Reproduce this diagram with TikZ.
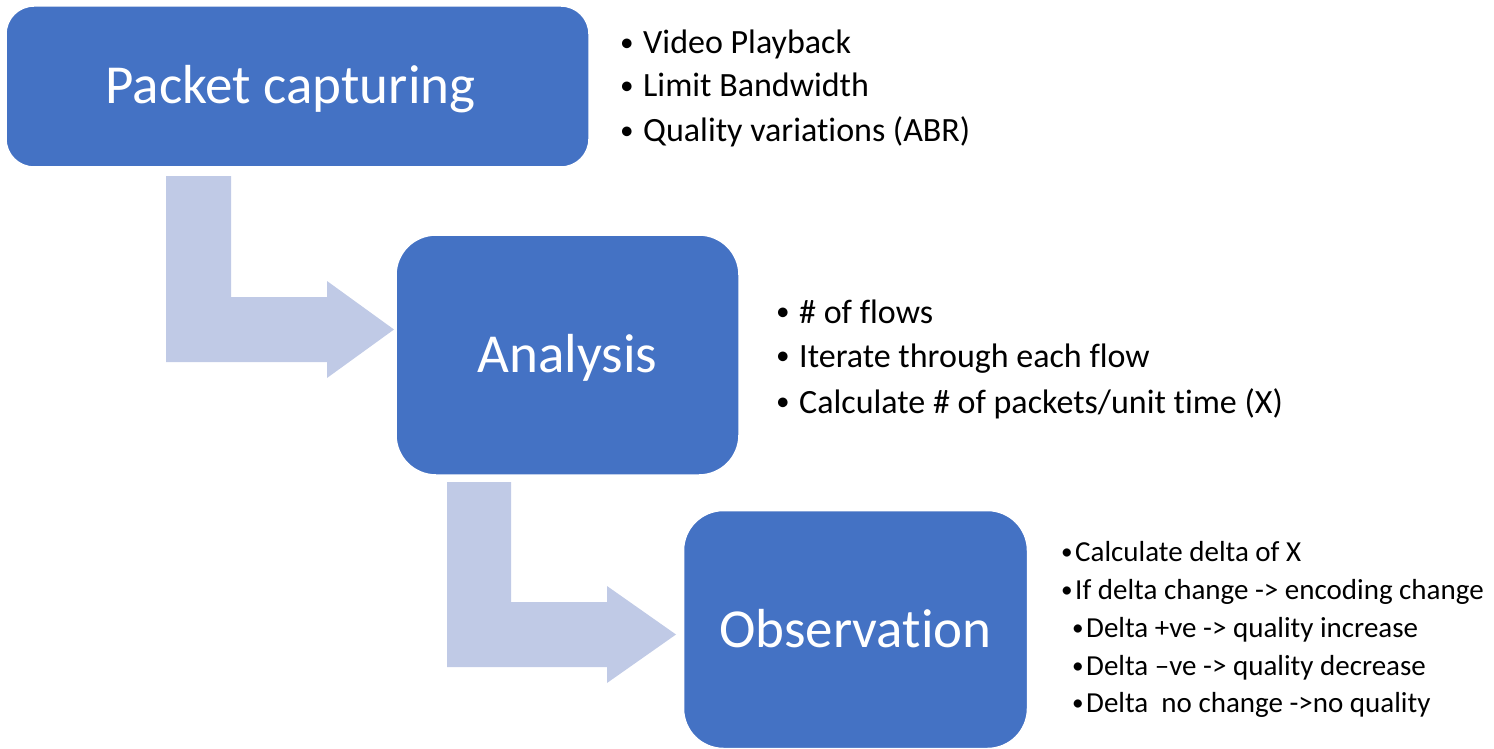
\documentclass[tikz,border=0pt]{standalone}
\usepackage{fontspec}
\setmainfont{Carlito}[Ligatures={NoCommon,NoContextual}]
\definecolor{boxblue}{HTML}{4472C4}
\definecolor{arrowblue}{HTML}{C0CAE6}
\newcommand{\smbul}{\raisebox{0.06em}{\scalebox{0.8}{•}}}
\newcommand{\bulA}{\makebox[24pt][l]{\hspace{1pt}\smbul}}
\newcommand{\bulB}{\makebox[15pt][l]{\hspace{1pt}\smbul}}
\begin{document}
\begin{tikzpicture}[x=1pt,y=-1pt,
  box/.style={draw=white, line width=1.5pt, fill=boxblue, text=white,
    rounded corners=#1, inner sep=0pt, text height=35pt, text depth=0pt,
    font=\fontsize{55}{66}\selectfont},
  box/.default=40pt,
  bendarrow/.style={fill=arrowblue, draw=none},
  itemA/.style={anchor=base west, inner sep=0pt, font=\fontsize{34}{40}\selectfont},
  itemB/.style={anchor=base west, inner sep=0pt, font=\fontsize{29}{35}\selectfont}]
\useasboundingbox (0,0) rectangle (1494,749);

% bent arrows
\path[bendarrow] (166,176) -- (231,176) -- (231,297) -- (327,297) -- (327,281)
  -- (394,329.5) -- (327,378) -- (327,362) -- (166,362) -- cycle;
\path[bendarrow] (447,482) -- (511,482) -- (511,602) -- (607,602) -- (607,586)
  -- (676,634.5) -- (607,683) -- (607,667) -- (447,667) -- cycle;

% boxes
\node[box=28pt, minimum width=583pt, minimum height=161pt] (b1) at (297.5,86.5) {Packet capturing\rule{14pt}{0pt}};
\node[box, minimum width=343pt, minimum height=240pt] (b2) at (567.5,355) {Analysis};
\node[box, minimum width=344pt, minimum height=238pt] (b3) at (855.5,629.5) {Observation};

% list 1
\node[itemA] (l1a) at (619,54) {\bulA Video Playback};
\node[itemA] (l1b) at (619,97) {\bulA Limit Bandwidth};
\node[itemA] (l1c) at (619,142) {\bulA Quality variations (ABR)};

% list 2
\node[itemA] (l2a) at (775,323) {\bulA \# of flows};
\node[itemA] (l2b) at (775,367) {\bulA Iterate through each flow};
\node[itemA] (l2c) at (775,413) {\bulA Calculate \# of packets/unit time (X)};

% list 3
\node[itemB] (l3a) at (1060,561) {\bulB Calculate delta of X};
\node[itemB] (l3b) at (1060,599) {\bulB If delta change -> encoding change};
\node[itemB] (l3c) at (1071,637) {\bulB Delta +ve -> quality increase};
\node[itemB] (l3d) at (1071,675) {\bulB Delta –ve -> quality decrease};
\node[itemB] (l3e) at (1071,712) {\bulB Delta\ \ no change ->no quality};
\end{tikzpicture}
\end{document}
